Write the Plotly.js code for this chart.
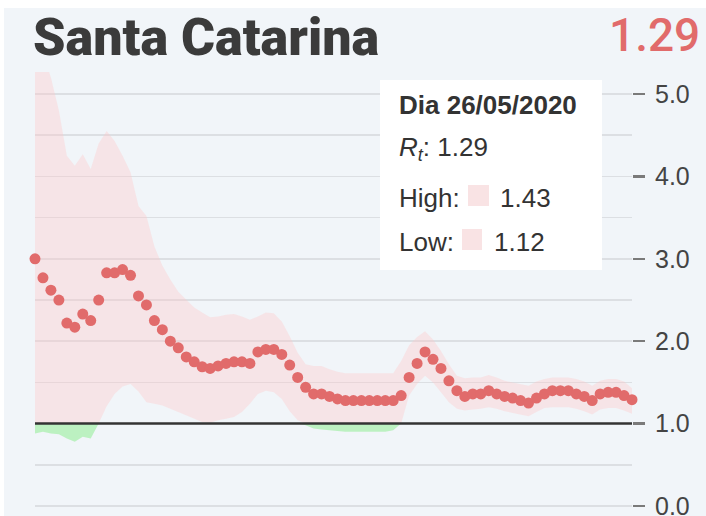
<!DOCTYPE html>
<html><head><meta charset="utf-8">
<script src="https://cdn.plot.ly/plotly-3.0.1.min.js"></script>
<style>html,body{margin:0;padding:0;background:#ffffff;}#chart{position:absolute;left:4px;top:8px;width:702px;height:508px;}</style>
</head><body><div id="chart"></div>
<script>
const stateName = "Santa Catarina";
const dates = [
 "2020-03-12","2020-03-13","2020-03-14","2020-03-15","2020-03-16","2020-03-17","2020-03-18","2020-03-19","2020-03-20","2020-03-21",
 "2020-03-22","2020-03-23","2020-03-24","2020-03-25","2020-03-26","2020-03-27","2020-03-28","2020-03-29","2020-03-30","2020-03-31",
 "2020-04-01","2020-04-02","2020-04-03","2020-04-04","2020-04-05","2020-04-06","2020-04-07","2020-04-08","2020-04-09","2020-04-10",
 "2020-04-11","2020-04-12","2020-04-13","2020-04-14","2020-04-15","2020-04-16","2020-04-17","2020-04-18","2020-04-19","2020-04-20",
 "2020-04-21","2020-04-22","2020-04-23","2020-04-24","2020-04-25","2020-04-26","2020-04-27","2020-04-28","2020-04-29","2020-04-30",
 "2020-05-01","2020-05-02","2020-05-03","2020-05-04","2020-05-05","2020-05-06","2020-05-07","2020-05-08","2020-05-09","2020-05-10",
 "2020-05-11","2020-05-12","2020-05-13","2020-05-14","2020-05-15","2020-05-16","2020-05-17","2020-05-18","2020-05-19","2020-05-20",
 "2020-05-21","2020-05-22","2020-05-23","2020-05-24","2020-05-25","2020-05-26"];
const rt = [
 3.00,2.77,2.62,2.50,2.22,2.17,2.33,2.25,2.50,2.83,
 2.83,2.87,2.80,2.55,2.44,2.25,2.14,2.00,1.92,1.81,
 1.75,1.69,1.67,1.70,1.73,1.75,1.75,1.73,1.87,1.90,
 1.90,1.84,1.71,1.56,1.44,1.36,1.36,1.33,1.30,1.28,
 1.28,1.28,1.28,1.28,1.28,1.28,1.34,1.56,1.73,1.87,
 1.78,1.67,1.52,1.40,1.33,1.36,1.36,1.40,1.36,1.33,
 1.31,1.28,1.25,1.31,1.36,1.40,1.40,1.40,1.36,1.33,
 1.28,1.36,1.38,1.38,1.34,1.29];
const high = [
 5.70,5.50,5.20,4.80,4.25,4.13,4.27,4.09,4.40,4.55,
 4.43,4.25,4.05,3.64,3.52,3.15,2.92,2.75,2.60,2.50,
 2.41,2.35,2.29,2.30,2.32,2.33,2.30,2.26,2.30,2.35,
 2.34,2.24,2.06,1.86,1.72,1.70,1.70,1.66,1.63,1.61,
 1.61,1.61,1.61,1.61,1.61,1.61,1.76,1.95,2.05,2.12,
 2.02,1.88,1.72,1.58,1.55,1.56,1.56,1.59,1.56,1.52,
 1.50,1.48,1.46,1.51,1.54,1.56,1.56,1.56,1.54,1.51,
 1.46,1.52,1.54,1.54,1.51,1.43];
const low = [
 0.88,0.90,0.88,0.87,0.82,0.78,0.84,0.82,1.00,1.21,
 1.36,1.45,1.48,1.39,1.26,1.24,1.22,1.18,1.14,1.10,
 1.06,1.02,1.01,1.04,1.06,1.08,1.14,1.24,1.36,1.40,
 1.38,1.30,1.15,1.04,0.98,0.94,0.93,0.92,0.91,0.90,
 0.90,0.90,0.90,0.90,0.90,0.92,1.00,1.34,1.48,1.58,
 1.50,1.38,1.26,1.18,1.16,1.17,1.18,1.20,1.18,1.15,
 1.13,1.11,1.09,1.14,1.19,1.20,1.20,1.20,1.18,1.15,
 1.11,1.17,1.19,1.19,1.16,1.12];
const yTicks = [0,1,2,3,4,5];
const threshold = 1;

const RED = '#e16b6b';
const PINK = 'rgba(255,200,200,0.36)';
const GREEN = 'rgba(110,235,110,0.40)';
const SQUARE = '#f9e3e4';
const BG = '#f1f5f9';
const GRID = '#dcdfe3';
const SANS = 'Arial, "Liberation Sans", sans-serif';

const n = rt.length;
const lowAbove = low.map(v => Math.max(v, threshold));
const lowBelow = low.map(v => Math.min(v, threshold));
const base = low.map(() => threshold);
const last = n - 1;
const dp = dates[last].split('-');
const dayLabel = 'Dia ' + dp[2] + '/' + dp[1] + '/' + dp[0];

const noLine = {width: 0};
const traces = [
  {x: dates, y: lowAbove, mode: 'lines', line: noLine, hoverinfo: 'skip', showlegend: false},
  {x: dates, y: high, mode: 'lines', line: noLine, fill: 'tonexty', fillcolor: PINK, hoverinfo: 'skip', showlegend: false},
  {x: dates, y: base, mode: 'lines', line: noLine, hoverinfo: 'skip', showlegend: false},
  {x: dates, y: lowBelow, mode: 'lines', line: noLine, fill: 'tonexty', fillcolor: GREEN, hoverinfo: 'skip', showlegend: false},
  {x: dates, y: rt, mode: 'markers', marker: {size: 11, color: RED}, cliponaxis: false, hoverinfo: 'skip', showlegend: false}
];

const txt = (text, x, y, opts) => Object.assign({
  text: text, x: x, y: y, xref: 'paper', yref: 'paper', showarrow: false,
  xanchor: 'left', yanchor: 'middle', font: {family: SANS, size: 26, color: '#333333'}
}, opts || {});

const layout = {
  width: 702, height: 508,
  margin: {l: 31, r: 74, t: 64, b: 0},
  paper_bgcolor: BG, plot_bgcolor: BG,
  showlegend: false,
  xaxis: {type: 'date', range: [dates[0], dates[last]], visible: false, fixedrange: true},
  yaxis: {
    side: 'right', range: [-0.121, 5.267], tickvals: yTicks, tickformat: '.1f',
    ticks: 'outside', ticklen: 12, tickwidth: 2.5, tickcolor: '#7a7a7a', ticklabelstandoff: 5,
    ticklabeloverflow: 'allow',
    showgrid: true, gridcolor: GRID, gridwidth: 1.6, zeroline: false, showline: false,
    tickfont: {family: SANS, size: 25, color: '#444444'},
    minor: {dtick: 0.5, tick0: 0, showgrid: true, gridcolor: GRID, gridwidth: 1.6, ticks: ''},
    fixedrange: true
  },
  shapes: [
    {type: 'line', xref: 'paper', x0: 0, x1: 1, yref: 'y', y0: threshold, y1: threshold,
     line: {color: '#333333', width: 2.5}, layer: 'above'},
    {type: 'rect', xref: 'paper', yref: 'paper', x0: 0.5779, x1: 0.9497, y0: 0.554, y1: 0.982,
     fillcolor: '#ffffff', line: {width: 0}, layer: 'above'},
    {type: 'rect', xref: 'paper', yref: 'paper', x0: 0.7253, x1: 0.7605, y0: 0.6982, y1: 0.7455,
     fillcolor: SQUARE, line: {width: 0}, layer: 'above'},
    {type: 'rect', xref: 'paper', yref: 'paper', x0: 0.7152, x1: 0.7487, y0: 0.5991, y1: 0.6464,
     fillcolor: SQUARE, line: {width: 0}, layer: 'above'}
  ],
  annotations: [
    txt(stateName, -0.006, 1.0777, {font: {family: 'Roboto, sans-serif', size: 52, weight: 900, color: '#3b3b3b'}}),
    txt(rt[last].toFixed(2), 1.118, 1.0833, {xanchor: 'right', font: {family: 'Roboto, sans-serif', size: 46, weight: 500, color: RED}}),
    txt('<b>' + dayLabel + '</b>', 0.6064, 0.9268),
    txt('<i>R</i><sub><i>t</i></sub>: ' + rt[last].toFixed(2), 0.6064, 0.8266),
    txt('High:', 0.6064, 0.7162),
    txt(high[last].toFixed(2), 0.7755, 0.7162),
    txt('Low:', 0.6064, 0.6182),
    txt(low[last].toFixed(2), 0.7655, 0.6182)
  ]
};

Plotly.newPlot('chart', traces, layout, {displayModeBar: false, staticPlot: true});
</script></body></html>
